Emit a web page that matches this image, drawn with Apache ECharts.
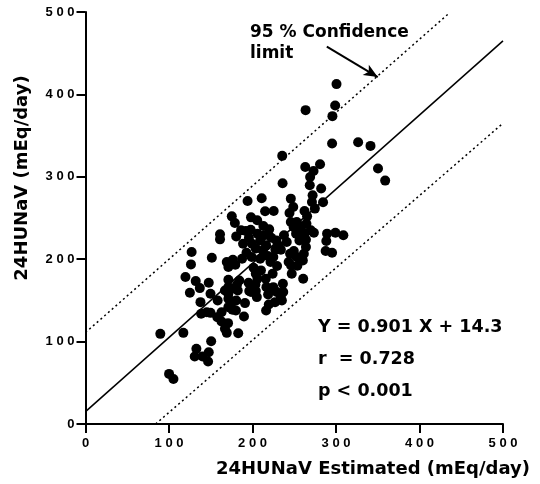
<!DOCTYPE html>
<html>
<head>
<meta charset="utf-8">
<script src="https://cdn.jsdelivr.net/npm/echarts@6/dist/echarts.min.js"></script>
<style>
  html, body { margin: 0; padding: 0; background: #fff; }
  #chart { width: 540px; height: 484px; }
</style>
</head>
<body>
<div id="chart"></div>
<script>
var points = [
  [300.6, 412.5], [299, 386.6], [263.6, 380.9], [295.7, 373.6], [295.3, 340.4],
  [326.5, 342], [341.3, 337.5], [235.6, 325.4], [350.3, 310], [358.9, 295.4],
  [263.2, 312], [280.9, 315.2], [273.1, 307], [269, 299.8], [268.6, 289.7],
  [282.2, 285.7], [236, 292.1], [272, 277.6], [271.2, 269.5], [284.5, 269.1],
  [274.7, 261.4], [245.9, 273.5], [248.8, 263.4], [244.3, 256.1], [262.3, 258.5],
  [194.1, 270.7], [211, 273.9], [215.1, 258.1], [225.4, 258.5], [175.2, 252],
  [178.9, 243.9], [198.2, 250.8], [205.6, 247.2], [213, 240.3], [220, 236.2],
  [161.1, 230.2], [161.1, 224.1], [180.5, 227.7], [192, 234.2], [195.7, 226.1],
  [188.7, 218.8], [199.4, 218.8], [192.8, 207.9], [203.9, 213.1], [209.2, 222.8],
  [212.2, 210.7], [216.3, 216.8], [222.4, 226.1], [228.6, 222.8], [227.4, 211.5],
  [234, 211.5], [224.9, 202.6], [221.6, 196.5], [229.4, 191.7], [201.3, 189.6],
  [209.2, 200.6], [218.3, 203.8], [245, 206.7], [249.5, 209.9], [252.8, 202.6],
  [243.3, 196.5], [246.2, 192.5], [253.7, 192.1], [247, 182.3], [260.7, 176.3],
  [260.3, 198.5], [261.5, 206.7], [264, 214.8], [264, 223.7], [262.3, 231],
  [249.2, 239], [245.9, 245.2], [253, 245.2], [258.7, 239.9], [264.6, 243.1],
  [265.4, 252], [273.5, 232.2], [288.4, 222], [287.6, 209.9], [295.3, 207.9],
  [289.3, 231], [299.3, 232.2], [308.8, 229], [127.1, 208.7], [126.3, 193.7],
  [151.3, 201.8], [119.7, 178.3], [132, 173.4], [136.9, 164.9], [125, 159.2],
  [147.6, 171.4], [149.7, 158], [137.7, 147.9], [138.5, 133.7], [149.7, 134.9],
  [158.3, 149.9], [157.9, 129.7], [162.9, 124.4], [170.7, 122.4], [167, 115.5],
  [169.2, 110.6], [182.9, 110.2], [189.8, 130.5], [191, 146.7], [180.5, 149.9],
  [171.1, 158], [171.1, 175], [171.1, 190.5], [176.5, 199.4], [179.4, 193.3],
  [169.2, 196.5], [171.1, 166.1], [175.2, 164.1], [181.4, 169], [182.3, 162.1],
  [176.9, 148.7], [171.1, 141.8], [176, 138.6], [180.1, 137.8], [195.3, 171.4],
  [196.1, 161.3], [203.5, 169.4], [205.2, 154], [204, 161.3], [215.9, 176.3],
  [216.7, 166.1], [220.8, 162.1], [218.7, 157.2], [224.9, 166.1], [224.1, 182.3],
  [236.4, 170.2], [229, 160.1], [233.9, 154.8], [235.2, 149.9], [227, 147.9],
  [219.5, 145.1], [216.3, 137.8], [89.6, 109.4], [117.2, 110.6], [100.1, 60.8],
  [105.3, 54.7], [132.8, 91.2], [130.8, 81.9], [140.2, 81.9], [147.6, 87.1],
  [150.5, 100.5], [146.8, 75.8], [186.3, 235], [197.8, 235.8], [206, 231],
  [214.2, 229], [237.7, 229], [241, 220.8], [231.1, 216.8], [199, 202.6],
  [187.5, 200.6], [210.1, 186.4], [203.9, 182.3], [236.8, 160.1], [206, 176.3],
  [198.2, 160.1], [184.2, 174.2], [167, 162.1], [171.1, 152], [145.2, 135.7],
  [162.9, 135.7], [269.8, 235], [258.3, 231], [252.2, 231], [256.2, 222.8],
  [260.7, 225.3]
];
var regLine = [[0, 15], [500, 465]];
var upperLimit = [[0, 111], [436, 499]];
var lowerLimit = [[84, 0], [500, 365]];
var arrowFrom = [289, 458];
var arrowTo = [350, 421];

var chart = echarts.init(document.getElementById('chart'));

function spaced(v) {
  return String(v).split('').join(' ');
}

var labelFont = {
  color: '#000',
  fontFamily: 'Liberation Sans',
  fontWeight: 'bold',
  fontSize: 13
};

var option = {
  backgroundColor: '#fff',
  animation: false,
  grid: { left: 85.5, right: 37, top: 12, bottom: 60 },
  xAxis: {
    type: 'value', min: 0, max: 500, interval: 100,
    axisLine: { show: true, lineStyle: { color: '#000', width: 2 } },
    axisTick: { show: true, length: 9, lineStyle: { color: '#000', width: 2 } },
    axisLabel: Object.assign({ margin: 13, formatter: spaced }, labelFont),
    splitLine: { show: false }
  },
  yAxis: {
    type: 'value', min: 0, max: 500, interval: 100,
    axisLine: { show: true, lineStyle: { color: '#000', width: 2 } },
    axisTick: { show: true, length: 9, lineStyle: { color: '#000', width: 2 } },
    axisLabel: Object.assign({ margin: 11, formatter: spaced }, labelFont),
    splitLine: { show: false }
  },
  series: [
    {
      type: 'line', data: regLine, symbol: 'none',
      lineStyle: { color: '#000', width: 1.5 }, z: 3
    },
    {
      type: 'line', data: upperLimit, symbol: 'none',
      lineStyle: { color: '#000', width: 1.5, type: [2, 3] }, z: 3,
      markLine: {
        silent: true, symbol: ['none', 'arrow'], symbolSize: [9, 14],
        label: { show: false },
        lineStyle: { color: '#000', width: 2, type: 'solid' },
        data: [[{ coord: arrowFrom }, { coord: arrowTo }]]
      }
    },
    {
      type: 'line', data: lowerLimit, symbol: 'none',
      lineStyle: { color: '#000', width: 1.5, type: [2, 3] }, z: 3
    },
    {
      type: 'scatter', data: points, symbolSize: 10,
      itemStyle: { color: '#000', opacity: 1 }, z: 4
    }
  ],
  graphic: [
    { type: 'text', left: 216, top: 460, style: { text: '24HUNaV Estimated (mEq/day)', fill: '#000', font: 'bold 18px DejaVu Sans' } },
    { type: 'text', x: 22, y: 178, rotation: Math.PI / 2, style: { text: '24HUNaV (mEq/day)', fill: '#000', font: 'bold 18px DejaVu Sans', align: 'center', verticalAlign: 'middle' } },
    { type: 'text', left: 250, top: 24, style: { text: '95 % Confidence', fill: '#000', font: 'bold 17px DejaVu Sans' } },
    { type: 'text', left: 250, top: 45, style: { text: 'limit', fill: '#000', font: 'bold 17px DejaVu Sans' } },
    { type: 'text', left: 318, top: 318, style: { text: 'Y = 0.901 X + 14.3', fill: '#000', font: 'bold 17.5px DejaVu Sans' } },
    { type: 'text', left: 318, top: 350, style: { text: 'r  = 0.728', fill: '#000', font: 'bold 17.5px DejaVu Sans' } },
    { type: 'text', left: 318, top: 382, style: { text: 'p < 0.001', fill: '#000', font: 'bold 17.5px DejaVu Sans' } }
  ]
};

chart.setOption(option);
</script>
</body>
</html>
